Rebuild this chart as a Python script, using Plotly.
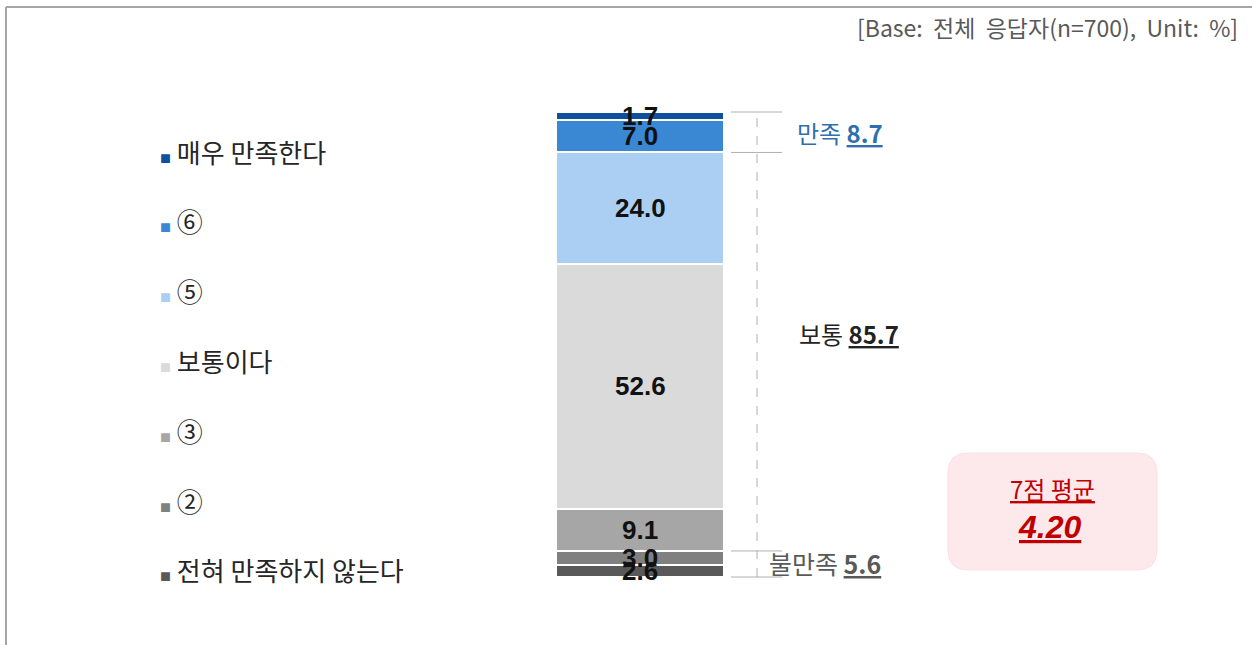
import plotly.graph_objects as go

# Data (bottom -> top of the stacked bar)
categories = ['전혀 만족하지 않는다', '②', '③', '보통이다', '⑤', '⑥', '매우 만족한다']
values = [2.6, 3.0, 9.1, 52.6, 24.0, 7.0, 1.7]
colors = ['#595959', '#808080', '#a6a6a6', '#dadada', '#aacff2', '#3a87d4', '#0e4f9e']

group_labels = ['불만족', '보통', '만족']
group_values = [5.6, 85.7, 8.7]
mean_label = '7점 평균'
mean_value = 4.20
base_note = '[Base:  전체  응답자(n=700),  Unit:  %]'

W, H = 1252, 645
TOP, BOT = 112, 577          # pixel rows of 100% and 0%
scale = (BOT - TOP) / 100.0


def py(p):
    # pixel row -> y data value
    return (BOT - p) / scale


fig = go.Figure()

# stacked bar segments
for cat, v, c in zip(categories, values, colors):
    fig.add_trace(go.Bar(
        x=[640], y=[v], width=[168], name=cat,
        marker=dict(color=c, line=dict(color='white', width=2)),
        showlegend=False, hoverinfo='skip',
    ))

# value labels on segments
cum = 0
for v in values:
    fig.add_annotation(x=640, y=cum + v / 2, text='<b>%.1f</b>' % v, showarrow=False,
                       font=dict(family='Liberation Sans Narrow, Liberation Sans', size=26, color='#111111'))
    cum += v

# custom legend (top to bottom)
for i, (cat, c) in enumerate(zip(categories[::-1], colors[::-1])):
    fig.add_annotation(
        x=158, y=py(151 + i * 69.8), xanchor='left', showarrow=False,
        text="<span style='color:%s;font-size:11px'>■</span> %s" % (c, cat),
        font=dict(family='Noto Sans CJK KR', size=26, color='#262626'),
    )

# bracket on the right
lc = '#b0b0b0'
bounds = [0, group_values[0], 100 - group_values[2], 100]
for b in bounds:
    fig.add_shape(type='line', x0=731, x1=782, y0=b, y1=b, line=dict(color=lc, width=1))
fig.add_shape(type='line', x0=757, x1=757, y0=0, y1=100, line=dict(color=lc, width=1, dash='dash'))

# group labels
fig.add_annotation(x=795, y=100 - group_values[2] / 2, xanchor='left', showarrow=False,
                   text="%s <u><b>%.1f</b></u>" % (group_labels[2], group_values[2]),
                   font=dict(family='Noto Sans CJK KR', size=24, color='#2e6fb0'))
fig.add_annotation(x=797, y=py(333), xanchor='left', showarrow=False,
                   text="%s <u><b>%.1f</b></u>" % (group_labels[1], group_values[1]),
                   font=dict(family='Noto Sans CJK KR', size=24, color='#222222'))
fig.add_annotation(x=767, y=py(563), xanchor='left', showarrow=False,
                   text="%s <u><b>%.1f</b></u>" % (group_labels[0], group_values[0]),
                   font=dict(family='Noto Sans CJK KR', size=25, color='#595959'))

# mean box
fig.add_shape(type='path',
              path='M 968 %f L 1137 %f Q 1157 %f 1157 %f L 1157 %f Q 1157 %f 1137 %f L 968 %f Q 948 %f 948 %f L 948 %f Q 948 %f 968 %f Z' % (
                  py(453), py(453), py(453), py(473), py(550), py(570), py(570),
                  py(570), py(570), py(550), py(473), py(453), py(453)),
              fillcolor='#fde8ec', line=dict(color='#fbe0e5', width=1))
fig.add_annotation(x=1052, y=py(488), showarrow=False, text='<u>%s</u>' % mean_label,
                   font=dict(family='Noto Sans CJK KR', size=24, color='#c00000'))
fig.add_annotation(x=1049, y=py(527), showarrow=False, text='<u><b><i>%.2f</i></b></u>' % mean_value,
                   font=dict(family='Liberation Sans', size=32, color='#c00000'))

# base note
fig.add_annotation(x=1240, y=py(27), xanchor='right', showarrow=False, text=base_note,
                   font=dict(family='Noto Sans CJK KR', size=23, color='#595959'))

# frame (top and left)
fig.add_shape(type='line', x0=6, x1=W, y0=py(7), y1=py(7), line=dict(color='#a6a6a6', width=2))
fig.add_shape(type='line', x0=6, x1=6, y0=py(7), y1=py(H), line=dict(color='#a6a6a6', width=2))

fig.update_layout(
    width=W, height=H, barmode='stack',
    margin=dict(l=0, r=0, t=0, b=0),
    plot_bgcolor='white', paper_bgcolor='white',
    xaxis=dict(range=[0, W], visible=False, fixedrange=True),
    yaxis=dict(range=[py(H), py(0)], visible=False, fixedrange=True),
)

fig.write_html('out.html', config={'displayModeBar': False},
               post_script="document.body.style.margin='0';")
